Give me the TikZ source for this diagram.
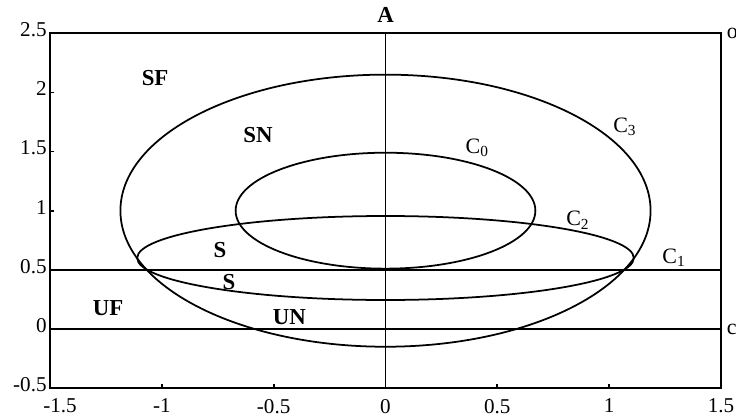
\documentclass[tikz,border=0pt]{standalone}
\usepackage{fontspec}
\setmainfont{Liberation Serif}

\begin{document}
\begin{tikzpicture}[x=4.474cm,y=2.366cm,line width=1pt,
  reg/.style={font=\fontsize{13}{15}\selectfont\bfseries},
  crv/.style={font=\fontsize{12.5}{15}\selectfont},
  tick/.style={font=\fontsize{12}{14}\selectfont,inner sep=0pt}]
\useasboundingbox (-1.7233,-0.727) rectangle (1.5668,2.781);

% frame, axis and the two levels
\draw (-1.5,-0.5) rectangle (1.5,2.5);
\coordinate (T) at (0,2.5);
\coordinate (B) at (0,-0.5);
\coordinate (HL) at (-1.5,0.5);
\coordinate (HR) at (1.5,0.5);
\coordinate (ZL) at (-1.5,0);
\coordinate (ZR) at (1.5,0);
\draw (T) -- (B);
\draw (HL) -- (HR);
\draw (ZL) -- (ZR);

% small ticks
\foreach \x in {-1,-0.5,0.5,1}
  \draw (\x,-0.5) -- (\x,-0.466);
\foreach \y in {1,1.5,2}
  \draw (-1.5,\y) -- (-1.482,\y);

% the curves
\draw (0,1) ellipse [x radius=1.185, y radius=1.15];
\draw (0,1) ellipse [x radius=0.67, y radius=0.49];
\draw (0,0.6) ellipse [x radius=1.11, y radius=0.355];

% tick labels
\foreach \v [count=\i] in {-0.5,0,0.5,1,1.5,2,2.5}
  \node[tick,anchor=east,xshift=-0.05cm,yshift=0.07cm] (yl\i) at (-1.5,\v) {\v};
\node[tick,anchor=north,xshift=0.2cm,yshift=-0.2cm] (xl1) at (-1.5,-0.5) {-1.5};
\foreach \v [count=\i from 2] in {-1,-0.5,0,0.5,1,1.5}
  \node[tick,anchor=north,yshift=-0.2cm] (xl\i) at (\v,-0.5) {\v};

% labels
\node[reg] (A) at (0,2.654) {A};
\node[reg] (SF) at (-1.03,2.12) {SF};
\node[reg] (SN) at (-0.57,1.64) {SN};
\node[reg] (S1) at (-0.74,0.67) {S};
\node[reg] (S2) at (-0.70,0.40) {S};
\node[reg] (UF) at (-1.24,0.18) {UF};
\node[reg] (UN) at (-0.43,0.10) {UN};
\node[crv] (C0) at (0.41,1.53) {C\textsubscript{0}};
\node[crv] (C1) at (1.29,0.60) {C\textsubscript{1}};
\node[crv] (C2) at (0.86,0.92) {C\textsubscript{2}};
\node[crv] (C3) at (1.07,1.71) {C\textsubscript{3}};
\node[crv,anchor=west,inner sep=0pt] (Ro) at (1.522,2.5) {o};
\node[crv,anchor=west,inner sep=0pt] (Rc) at (1.522,0) {c};
\end{tikzpicture}
\end{document}
